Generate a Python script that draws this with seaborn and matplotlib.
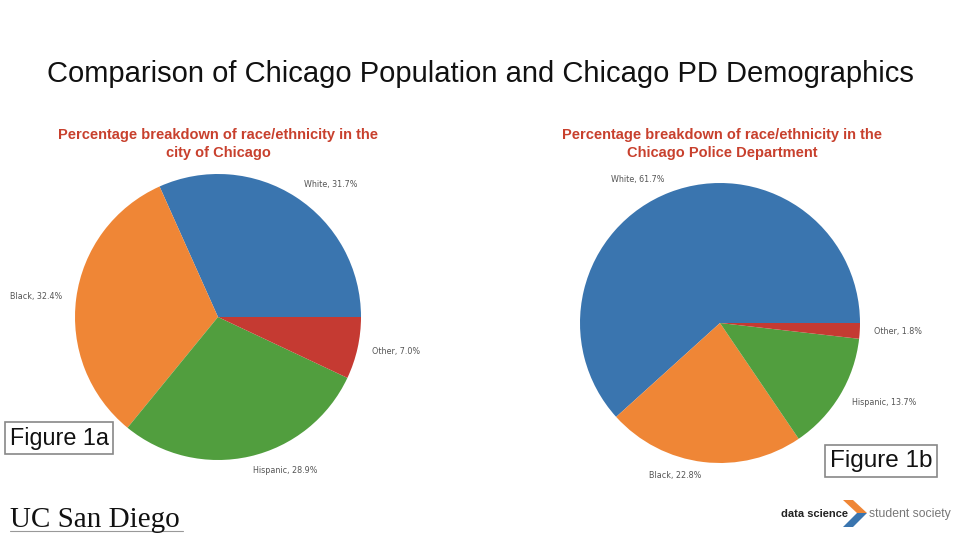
import numpy as np
import matplotlib
matplotlib.use('Agg')
import matplotlib.pyplot as plt
import seaborn as sns
from matplotlib.patches import Polygon

groups = ['White', 'Black', 'Hispanic', 'Other']
city_pct = [31.7, 32.4, 28.9, 7.0]
cpd_pct = [61.7, 22.8, 13.7, 1.8]

sns.set_theme(style='white')
plt.rcParams['font.family'] = ['Liberation Sans', 'DejaVu Sans']
colors = sns.color_palette(['#3a75af', '#ef8636', '#519e3e', '#c53a32'])

W, H = 960, 540
fig = plt.figure(figsize=(9.6, 5.4), dpi=100)
fig.patch.set_facecolor('white')


def pie_axes(cx, cy, r):
    # square box in pixel coords -> figure fraction
    return fig.add_axes([(cx - r) / W, (H - cy - r) / H, 2 * r / W, 2 * r / H])


def draw_pie(ax, values):
    labels = ['{}, {:.1f}%'.format(g, v) for g, v in zip(groups, values)]
    ax.pie(values, labels=labels, colors=colors, startangle=0,
           wedgeprops={'linewidth': 0},
           textprops={'fontsize': 5.8, 'color': '#555555', 'family': 'DejaVu Sans'})
    ax.set_xlim(-1, 1)
    ax.set_ylim(-1, 1)
    ax.set_aspect('equal')


ax1 = pie_axes(218, 317, 143)
draw_pie(ax1, city_pct)
ax2 = pie_axes(720, 323, 140)
draw_pie(ax2, cpd_pct)

fig.text(480 / W, 1 - 74 / H, 'Comparison of Chicago Population and Chicago PD Demographics',
         ha='center', va='center', fontsize=21, color='#111111')

sub_color = '#c8402d'
fig.text(218 / W, 1 - 144 / H,
         'Percentage breakdown of race/ethnicity in the\ncity of Chicago',
         ha='center', va='center', fontsize=10.5, fontweight='bold', color=sub_color,
         linespacing=1.3)
fig.text(722 / W, 1 - 144 / H,
         'Percentage breakdown of race/ethnicity in the\nChicago Police Department',
         ha='center', va='center', fontsize=10.5, fontweight='bold', color=sub_color,
         linespacing=1.3)

box = dict(boxstyle='square,pad=0.2', facecolor='white', edgecolor='#888888', linewidth=1.2)
fig.text(59 / W, 1 - 438 / H, 'Figure 1a', ha='center', va='center', fontsize=16.8,
         color='#111111', bbox=box)
fig.text(881 / W, 1 - 461 / H, 'Figure 1b', ha='center', va='center', fontsize=17.5,
         color='#111111', bbox=box)

# logos
fig.text(10 / W, 1 - 527 / H, 'UC San Diego', ha='left', va='baseline', fontsize=21,
         family='Liberation Serif', color='#111111')
fig.add_artist(plt.Line2D([10 / W, 183 / W], [1 - 531 / H, 1 - 531 / H],
                          color='#999999', linewidth=0.8))

fig.text(781 / W, 1 - 514 / H, 'data science', ha='left', va='center', fontsize=8,
         fontweight='bold', color='#222222')
fig.text(869 / W, 1 - 514 / H, 'student society', ha='left', va='center', fontsize=8.8,
         color='#777777')
px = lambda x, y: (x / W, 1 - y / H)
fig.add_artist(Polygon([px(843, 500), px(853, 500), px(867, 513), px(857, 513)],
                       closed=True, transform=fig.transFigure, facecolor='#ef8636',
                       edgecolor='none'))
fig.add_artist(Polygon([px(857, 513), px(867, 513), px(853, 527), px(843, 527)],
                       closed=True, transform=fig.transFigure, facecolor='#3a75af',
                       edgecolor='none'))

fig.savefig('out.png', dpi=100)
